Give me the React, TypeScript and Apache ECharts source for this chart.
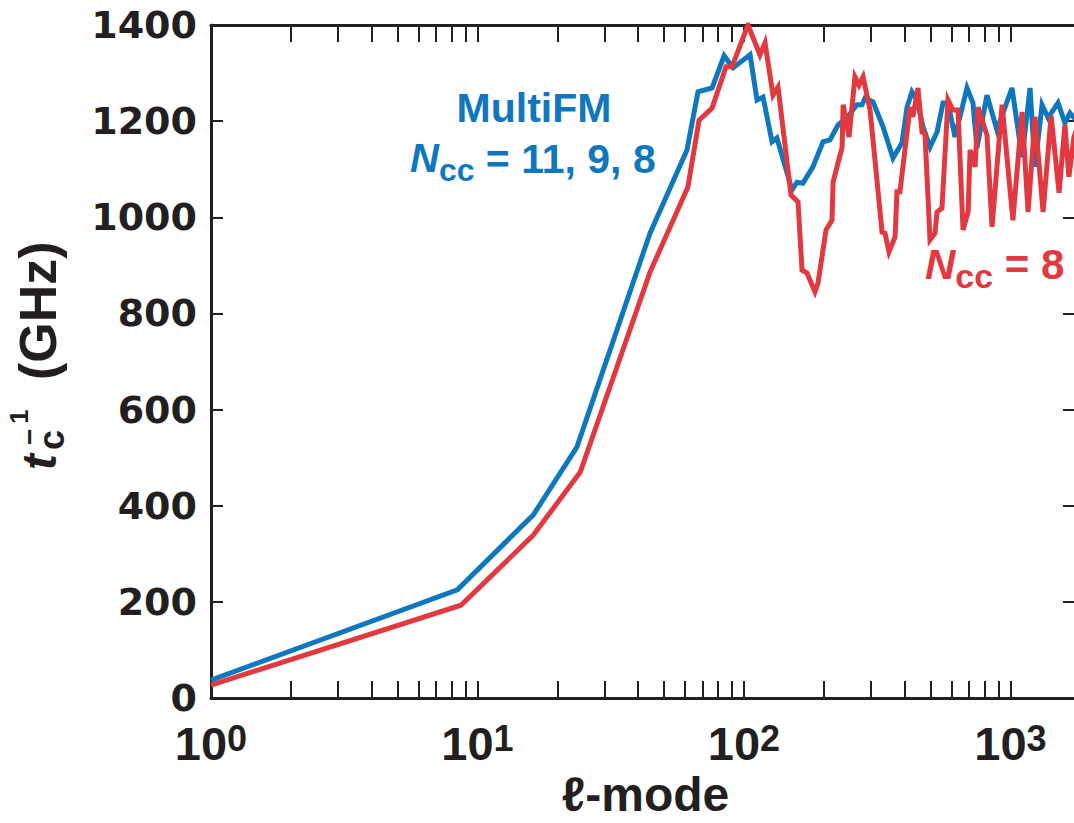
import React, { useEffect, useRef } from "react";
import * as echarts from "echarts";

// ---- data ----
const blueL = [1, 8.4, 16.2, 23.6, 44.4, 61.1, 67.2, 75.9, 84.2, 91.0, 105.4, 111.9, 117.9, 127.4, 132.9, 151.4, 158.1, 166.4, 181.4, 197.9, 210.2, 225.3, 243.4, 265.3, 277.2, 284.5, 304.8, 332.5, 362.4, 391.6, 409.0, 426.8, 445.8, 469.5, 498.9, 529.9, 558.2, 582.8, 619.1, 686.6, 723.0, 748.3, 816.0, 889.4, 1013, 1105, 1184, 1236, 1313, 1383, 1508, 1600, 1671, 1730, 1824];
const blueV = [37, 225, 381, 522, 967, 1140, 1261, 1269, 1336, 1311, 1338, 1244, 1250, 1157, 1165, 1057, 1073, 1071, 1105, 1157, 1161, 1192, 1207, 1234, 1234, 1248, 1240, 1188, 1123, 1155, 1229, 1261, 1244, 1188, 1146, 1177, 1238, 1238, 1167, 1269, 1238, 1144, 1254, 1182, 1269, 1125, 1269, 1105, 1234, 1207, 1238, 1196, 1217, 1207, 1202];

const redL = [1, 8.67, 16.2, 24.3, 44.4, 61.6, 67.8, 75.9, 85.6, 90.1, 103.5, 114.8, 119.9, 128.5, 134.2, 150.1, 159.5, 165.1, 172.3, 184.6, 189.5, 203.2, 213.9, 215.9, 233.4, 235.5, 247.9, 260.8, 270.2, 279.8, 297.2, 329.6, 338.1, 350.0, 368.8, 375.1, 384.7, 419.8, 430.5, 449.6, 465.5, 477.5, 498.9, 521.1, 529.9, 553.1, 582.8, 608.1, 635.3, 663.7, 693.4, 705.2, 736.7, 755.6, 816.0, 852.4, 929.7, 1021, 1105, 1164, 1236, 1325, 1420, 1521, 1600, 1656, 1730, 1824];
const redV = [27, 193, 339, 470, 886, 1063, 1202, 1227, 1313, 1313, 1400, 1338, 1363, 1254, 1271, 1046, 1032, 890, 884, 845, 863, 974, 994, 1073, 1146, 1234, 1167, 1292, 1275, 1292, 1223, 969, 967, 928, 959, 1053, 1053, 1229, 1209, 1269, 1177, 1175, 953, 967, 1011, 1019, 1244, 1223, 1223, 974, 1011, 1140, 1105, 1229, 1171, 980, 1234, 994, 1219, 1011, 1209, 1011, 1211, 1051, 1192, 1084, 1167, 1202];

const xMajor = [1, 10, 100, 1000];
const xMinor = [2, 3, 4, 5, 6, 7, 8, 9, 20, 30, 40, 50, 60, 70, 80, 90, 200, 300, 400, 500, 600, 700, 800, 900];
const xMin = 1;
const xMax = 1823;
const yMin = 0;
const yMax = 1400;
const yStep = 200;

const BLUE = "#0f77bd";
const RED = "#e1393f";
const INK = "#231f20";
const NARROW = "'Liberation Sans Narrow', 'Liberation Sans', Arial, sans-serif";
const SANS = "'Liberation Sans', Arial, sans-serif";

export default function App() {
  const ref = useRef<HTMLDivElement>(null);
  useEffect(() => {
    if (!ref.current) return;
    const chart = echarts.init(ref.current, null, { renderer: "svg" });
    const tickVals = [...xMajor.filter((v) => v > xMin), ...xMinor];
    const axisLine = { show: true, onZero: false, lineStyle: { color: INK, width: 3 } };
    const tickStyle = { color: INK, width: 2 };
    const xCommon = {
      type: "log" as const,
      logBase: 10,
      min: xMin,
      max: xMax,
      splitLine: { show: false },
      minorTick: { show: false },
      axisLine,
    };
    const blueData = blueL.map((l, i) => [l, blueV[i]]);
    const redData = redL.map((l, i) => [l, redV[i]]);
    const option: any = {
      animation: false,
      backgroundColor: "#ffffff",
      grid: { left: 211, top: 25, right: -6, bottom: 125, outerBoundsMode: "none" },
      xAxis: [
        {
          ...xCommon,
          position: "bottom",
          axisTick: { show: true, inside: true, length: 17, lineStyle: tickStyle, customValues: tickVals },
          axisLabel: {
            show: true,
            customValues: xMajor,
            margin: 22,
            color: INK,
            formatter: (v: number) => `{b|10}{s|${Math.round(Math.log10(v))}}`,
            rich: {
              b: { fontFamily: NARROW, fontWeight: "bold", fontSize: 47, lineHeight: 47, verticalAlign: "bottom", color: INK },
              s: { fontFamily: NARROW, fontWeight: "bold", fontSize: 36, lineHeight: 36, padding: [0, 0, 20, 0], verticalAlign: "top", color: INK },
            },
          },
          name: "ℓ-mode",
          nameLocation: "middle",
          nameGap: 72,
          nameMoveOverlap: false,
          nameTextStyle: { fontFamily: NARROW, fontWeight: "bold", fontSize: 48, lineHeight: 48, color: INK },
        },
        {
          ...xCommon,
          position: "top",
          axisTick: { show: true, inside: true, length: 17, lineStyle: tickStyle, customValues: tickVals },
          axisLabel: { show: false },
        },
      ],
      yAxis: [
        {
          type: "value",
          position: "left",
          min: yMin,
          max: yMax,
          interval: yStep,
          splitLine: { show: false },
          axisLine,
          axisTick: { show: true, inside: true, length: 12, lineStyle: tickStyle },
          axisLabel: {
            color: INK,
            fontFamily: "'DejaVu Sans', sans-serif",
            fontWeight: "bold",
            fontSize: 38,
            margin: 14,
            formatter: (v: number) => String(v),
          },
        },
        {
          type: "value",
          position: "right",
          min: yMin,
          max: yMax,
          interval: yStep,
          splitLine: { show: false },
          axisLine,
          axisTick: { show: true, inside: true, length: 17, lineStyle: tickStyle },
          axisLabel: { show: false },
        },
      ],
      series: [
        {
          type: "line",
          name: "MultiFM",
          data: blueData,
          showSymbol: false,
          symbol: "none",
          lineStyle: { color: BLUE, width: 5, join: "miter" },
          itemStyle: { color: BLUE },
          clip: true,
          z: 2,
        },
        {
          type: "line",
          name: "Ncc=8",
          data: redData,
          showSymbol: false,
          symbol: "none",
          lineStyle: { color: RED, width: 5, join: "miter" },
          itemStyle: { color: RED },
          clip: true,
          z: 3,
        },
      ],
      graphic: [
        {
          type: "text",
          x: 534,
          y: 87,
          style: { text: "MultiFM", fill: BLUE, font: `bold 41px ${SANS}`, align: "center", verticalAlign: "top" },
        },
        {
          type: "text",
          x: 410,
          y: 138,
          style: {
            text: "{n|N}{c|cc}{t| = 11, 9, 8}",
            fill: BLUE,
            rich: {
              n: { fontFamily: SANS, fontWeight: "bold", fontStyle: "italic", fontSize: 40, lineHeight: 40, verticalAlign: "top", fill: BLUE },
              c: { fontFamily: SANS, fontWeight: "bold", fontSize: 32, lineHeight: 32, padding: [16, 0, 0, 0], verticalAlign: "top", fill: BLUE },
              t: { fontFamily: SANS, fontWeight: "bold", fontSize: 41, lineHeight: 41, verticalAlign: "top", fill: BLUE },
            },
          },
        },
        {
          type: "text",
          x: 925,
          y: 243,
          style: {
            text: "{n|N}{c|cc}{t| = 8}",
            fill: RED,
            rich: {
              n: { fontFamily: SANS, fontWeight: "bold", fontStyle: "italic", fontSize: 42, lineHeight: 42, verticalAlign: "top", fill: RED },
              c: { fontFamily: SANS, fontWeight: "bold", fontSize: 34, lineHeight: 34, padding: [16, 0, 0, 0], verticalAlign: "top", fill: RED },
              t: { fontFamily: SANS, fontWeight: "bold", fontSize: 42, lineHeight: 42, verticalAlign: "top", fill: RED },
            },
          },
        },
        {
          type: "group",
          x: 56,
          y: 470,
          rotation: Math.PI / 2,
          children: [
            { type: "text", x: 0, y: -17, style: { text: "t", fill: INK, font: `italic bold 48px ${NARROW}`, align: "left", verticalAlign: "middle" } },
            { type: "text", x: 20, y: -5, style: { text: "c", fill: INK, font: `bold 36px ${NARROW}`, align: "left", verticalAlign: "middle" } },
            { type: "text", x: 25, y: -27, style: { text: "−", fill: INK, font: `bold 28px ${SANS}`, align: "left", verticalAlign: "middle" } },
            { type: "text", x: 46, y: -37, style: { text: "1", fill: INK, font: `bold 26px ${NARROW}`, align: "left", verticalAlign: "middle" } },
            { type: "text", x: 90, y: -18, style: { text: "(GHz)", fill: INK, font: `bold 52px ${NARROW}`, align: "left", verticalAlign: "middle" } },
          ],
        },
      ],
    };
    chart.setOption(option);
    return () => chart.dispose();
  }, []);
  return <div ref={ref} style={{ position: "absolute", left: 0, top: 0, width: 1074, height: 823 }} />;
}
